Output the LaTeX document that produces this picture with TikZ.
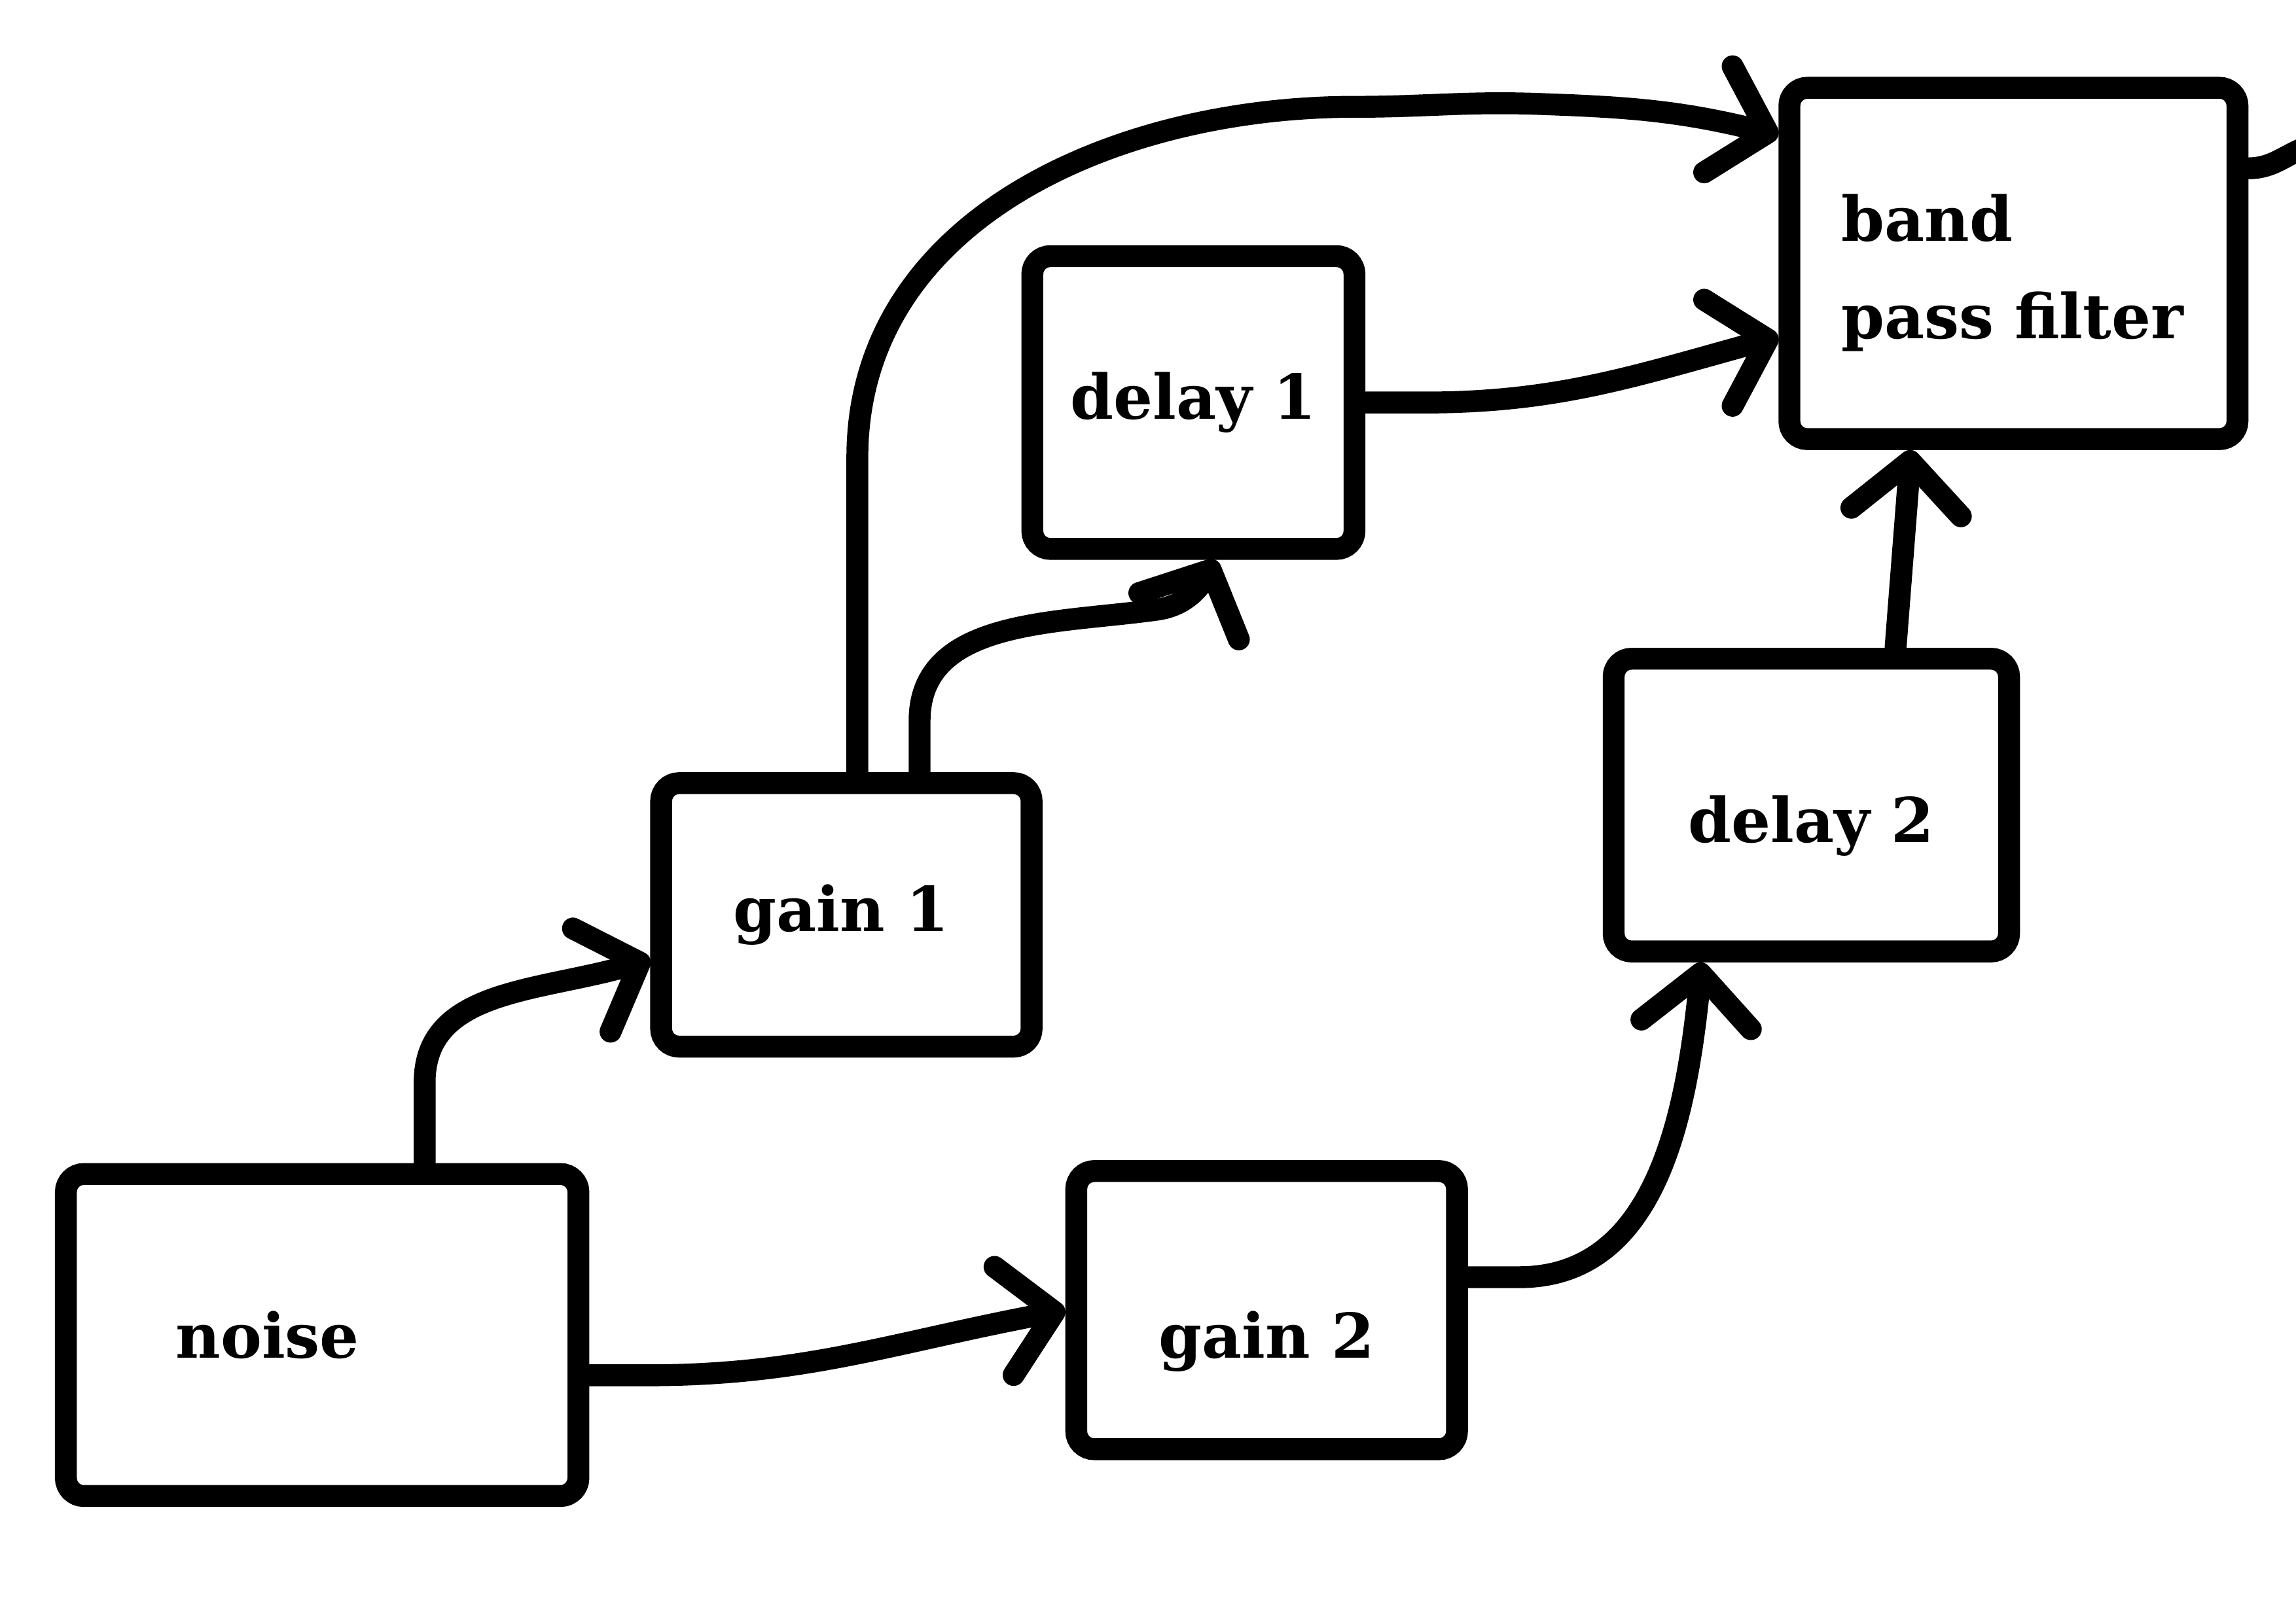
\documentclass[tikz,border=0pt]{standalone}
\usepackage{fontspec}
\setmainfont{DejaVu Serif}
\usetikzlibrary{arrows.meta,bending}
\tikzset{
  block/.style={draw=black, line width=8.5pt, rounded corners=7pt, font=\bfseries\fontsize{24}{38}\selectfont, align=center},
  link/.style={line width=8.5pt, line cap=round, line join=round},
  larr/.style={link, -{Straight Barb[round, length=7mm, width=15mm]}}
}

\begin{document}
\begin{tikzpicture}
\useasboundingbox (0,0) rectangle (31.36,22.18);
\node[block, minimum width=7cm, minimum height=4.4cm, text width=4cm, inner xsep=1.5cm, align=left] (noise) at (4.4,3.94) {noise};
\node[block, minimum width=5.06cm, minimum height=3.6cm] (gain1) at (11.56,9.68) {gain 1\,};
\node[block, minimum width=4.4cm, minimum height=4cm] (delay1) at (16.3,16.68) {delay 1};
\node[block, minimum width=5.2cm, minimum height=3.8cm, text height=1.5cm] (gain2) at (17.3,4.28) {gain 2};
\node[block, minimum width=5.4cm, minimum height=4cm, text height=1.2cm] (delay2) at (24.74,11.18) {delay 2};
\node[block, minimum width=6.12cm, minimum height=4.8cm, text width=4.7cm, text height=0.9cm, align=left] (bpf) at (27.5,18.58) {band\\pass filter};
\coordinate (exit) at (31.6,20.2);
% connectors
\draw[larr] ([xshift=1.4cm]noise.north) -- ++(0,1.1) to[out=90,in=200] ([yshift=-0.6cm]gain1.west);
\draw[larr] ([yshift=-0.55cm]noise.east) -- ++(0.8,0) to[out=0,in=190] (gain2.west);
\draw[larr] ([xshift=0.15cm]gain1.north) -- ++(0,4.3) to[out=90,in=180] (18.5,20.72) to[out=0,in=178] (21,20.76) to[out=-2,in=165] ([yshift=-0.8cm]bpf.north west);
\draw[larr] ([xshift=1cm]gain1.north) -- ++(0,0.7) to[out=90,in=188] (15.8,13.85) to[out=8,in=-115] ([xshift=0.3cm]delay1.south);
\draw[larr] (delay1.east) -- ++(0.8,0) to[out=0,in=195] ([yshift=-1cm]bpf.west);
\draw[larr] ([yshift=0.45cm]gain2.east) -- ++(0.7,0) to[out=0,in=-95] ([xshift=-1.5cm]delay2.south);
\draw[larr] ([xshift=1.15cm]delay2.north) -- ([xshift=-1.4cm]bpf.south);
\draw[link] ([yshift=1.3cm]bpf.east) to[out=0,in=195] (exit);
\end{tikzpicture}
\end{document}
